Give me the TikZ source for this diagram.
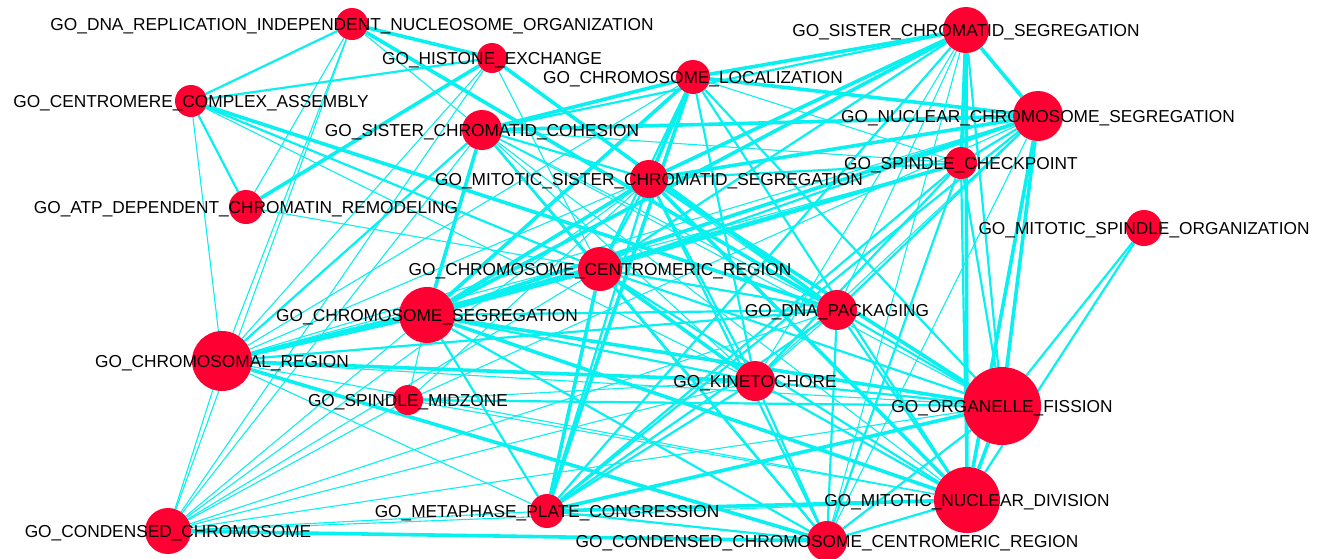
\documentclass[tikz,border=0pt]{standalone}
\usepackage{fontspec}
\setmainfont{Liberation Sans}
\usetikzlibrary{backgrounds}
\definecolor{edgec}{RGB}{8,240,240}
\definecolor{nodec}{HTML}{FF0033}
\begin{document}
\begin{tikzpicture}[x=1pt,y=-1pt,
  gn/.style={circle,fill=nodec,draw=none,inner sep=0pt},
  lbl/.style={font=\fontsize{17.3}{20}\selectfont,text=black,anchor=base,inner sep=0pt},
  ea/.style={draw=edgec,line width=1.1pt},
  eb/.style={draw=edgec,line width=2.2pt},
  ec/.style={draw=edgec,line width=3.6pt}]
\useasboundingbox (0,0) rectangle (1326,558);
% nodes
\node[gn,minimum size=32pt] (DRI) at (352,24) {};
\node[gn,minimum size=30pt] (HIS) at (492,58) {};
\node[gn,minimum size=34pt] (CLO) at (693,77) {};
\node[gn,minimum size=46pt] (SCS) at (966,30) {};
\node[gn,minimum size=32pt] (CCA) at (191,101) {};
\node[gn,minimum size=40pt] (SCC) at (482,130) {};
\node[gn,minimum size=50pt] (NCS) at (1038,116) {};
\node[gn,minimum size=38pt] (MSC) at (649,179) {};
\node[gn,minimum size=32pt] (SPC) at (961,163) {};
\node[gn,minimum size=34pt] (ATP) at (246,207) {};
\node[gn,minimum size=36pt] (MSO) at (1144,228) {};
\node[gn,minimum size=44pt] (CCR) at (600,269) {};
\node[gn,minimum size=56pt] (CSE) at (427,315) {};
\node[gn,minimum size=40pt] (DNP) at (837,310) {};
\node[gn,minimum size=60pt] (CHR) at (222,361) {};
\node[gn,minimum size=40pt] (KIN) at (755,381) {};
\node[gn,minimum size=30pt] (SMZ) at (408,400) {};
\node[gn,minimum size=78pt] (ORG) at (1002,406) {};
\node[gn,minimum size=66pt] (MND) at (967,500) {};
\node[gn,minimum size=34pt] (MPC) at (547,511) {};
\node[gn,minimum size=46pt] (CCH) at (168,531) {};
\node[gn,minimum size=40pt] (CCC) at (827,541) {};
% edges
\begin{pgfonlayer}{background}
\fill[white] (0,0) rectangle (1326,558);
\foreach \a/\b in {DRI/ATP,DRI/CHR,DRI/SCC,DRI/CCH,HIS/CHR,HIS/CCR,CCA/CHR,CCA/KIN,ATP/DNP,
  SCC/SPC,SCC/KIN,SCC/DNP,SCC/ORG,SCC/MND,CLO/SPC,CLO/CHR,SCS/KIN,SCS/CCC,SCS/DNP,
  NCS/KIN,NCS/CCC,NCS/CHR,NCS/SMZ,SPC/CHR,MSC/DNP,MSC/CHR,MSC/SMZ,CSE/SMZ,CSE/CCH,
  CCR/CCH,KIN/DNP,KIN/SMZ,KIN/CCH,DNP/CCH,ORG/SMZ,ORG/CHR,ORG/CCH,MND/CCH,MND/SMZ,
  MND/CHR,MPC/CHR,CCH/CHR,CCH/HIS,CCH/SCC,CCH/MSC,CCH/SMZ,MPC/CCH}
  \draw[ea] (\a) -- (\b);
\foreach \a/\b in {DRI/CCA,HIS/CCA,CCA/ATP,CCA/CCR,SCC/SCS,SCC/MSC,SCC/CCR,SCC/CCC,
  CLO/CCR,CLO/KIN,CLO/MND,CLO/ORG,SCS/ORG,SCS/CCR,SCS/MPC,NCS/SPC,NCS/CCR,NCS/DNP,
  NCS/MPC,SPC/MSC,SPC/KIN,SPC/ORG,SPC/MND,SPC/CCC,SPC/CCR,SPC/MPC,MSC/CCR,MSC/KIN,
  MSC/MPC,MSC/CCC,CSE/KIN,CSE/DNP,CSE/MPC,CSE/CCC,CCR/DNP,CCR/CCC,CCR/ORG,CCR/MND,
  KIN/CCC,KIN/MND,KIN/ORG,KIN/MPC,DNP/ORG,DNP/MND,DNP/CCC,DNP/MPC,DNP/CHR,ORG/CCC,
  MND/CCC,MSO/ORG,MSO/MND,MPC/CCC,SMZ/ORG,SCC/CHR}
  \draw[eb] (\a) -- (\b);
\foreach \a/\b in {DRI/HIS,DRI/DNP,HIS/ATP,HIS/DNP,CCA/DNP,SCC/CSE,SCC/NCS,SCC/CLO,
  CLO/SCS,CLO/NCS,CLO/MSC,CLO/CSE,CLO/MPC,SCS/NCS,SCS/MSC,SCS/CSE,SCS/SPC,SCS/MND,
  NCS/MSC,NCS/CSE,NCS/ORG,NCS/MND,SPC/CSE,MSC/CSE,MSC/ORG,MSC/MND,CSE/CHR,CSE/CCR,
  CSE/ORG,CSE/MND,CCR/KIN,CCR/MPC,CCR/CHR,KIN/CHR,ORG/MND,ORG/MPC,MND/MPC,CCC/CCH,CCC/CHR}
  \draw[ec] (\a) -- (\b);
\end{pgfonlayer}
% labels
\node[lbl] (DRIl) at ([yshift=-6.2pt]DRI.center) {GO\_DNA\_REPLICATION\_INDEPENDENT\_NUCLEOSOME\_ORGANIZATION};
\node[lbl] (HISl) at ([yshift=-6.2pt]HIS.center) {GO\_HISTONE\_EXCHANGE};
\node[lbl] (CLOl) at ([yshift=-6.2pt]CLO.center) {GO\_CHROMOSOME\_LOCALIZATION};
\node[lbl] (SCSl) at ([yshift=-6.2pt]SCS.center) {GO\_SISTER\_CHROMATID\_SEGREGATION};
\node[lbl] (CCAl) at ([yshift=-6.2pt]CCA.center) {GO\_CENTROMERE\_COMPLEX\_ASSEMBLY};
\node[lbl] (SCCl) at ([yshift=-6.2pt]SCC.center) {GO\_SISTER\_CHROMATID\_COHESION};
\node[lbl] (NCSl) at ([yshift=-6.2pt]NCS.center) {GO\_NUCLEAR\_CHROMOSOME\_SEGREGATION};
\node[lbl] (MSCl) at ([yshift=-6.2pt]MSC.center) {GO\_MITOTIC\_SISTER\_CHROMATID\_SEGREGATION};
\node[lbl] (SPCl) at ([yshift=-6.2pt]SPC.center) {GO\_SPINDLE\_CHECKPOINT};
\node[lbl] (ATPl) at ([yshift=-6.2pt]ATP.center) {GO\_ATP\_DEPENDENT\_CHROMATIN\_REMODELING};
\node[lbl] (MSOl) at ([yshift=-6.2pt]MSO.center) {GO\_MITOTIC\_SPINDLE\_ORGANIZATION};
\node[lbl] (CCRl) at ([yshift=-6.2pt]CCR.center) {GO\_CHROMOSOME\_CENTROMERIC\_REGION};
\node[lbl] (CSEl) at ([yshift=-6.2pt]CSE.center) {GO\_CHROMOSOME\_SEGREGATION};
\node[lbl] (DNPl) at ([yshift=-6.2pt]DNP.center) {GO\_DNA\_PACKAGING};
\node[lbl] (CHRl) at ([yshift=-6.2pt]CHR.center) {GO\_CHROMOSOMAL\_REGION};
\node[lbl] (KINl) at ([yshift=-6.2pt]KIN.center) {GO\_KINETOCHORE};
\node[lbl] (SMZl) at ([yshift=-6.2pt]SMZ.center) {GO\_SPINDLE\_MIDZONE};
\node[lbl] (ORGl) at ([yshift=-6.2pt]ORG.center) {GO\_ORGANELLE\_FISSION};
\node[lbl] (MNDl) at ([yshift=-6.2pt]MND.center) {GO\_MITOTIC\_NUCLEAR\_DIVISION};
\node[lbl] (MPCl) at ([yshift=-6.2pt]MPC.center) {GO\_METAPHASE\_PLATE\_CONGRESSION};
\node[lbl] (CCHl) at ([yshift=-6.2pt]CCH.center) {GO\_CONDENSED\_CHROMOSOME};
\node[lbl] (CCCl) at ([yshift=-6.2pt]CCC.center) {GO\_CONDENSED\_CHROMOSOME\_CENTROMERIC\_REGION};
\end{tikzpicture}
\end{document}
